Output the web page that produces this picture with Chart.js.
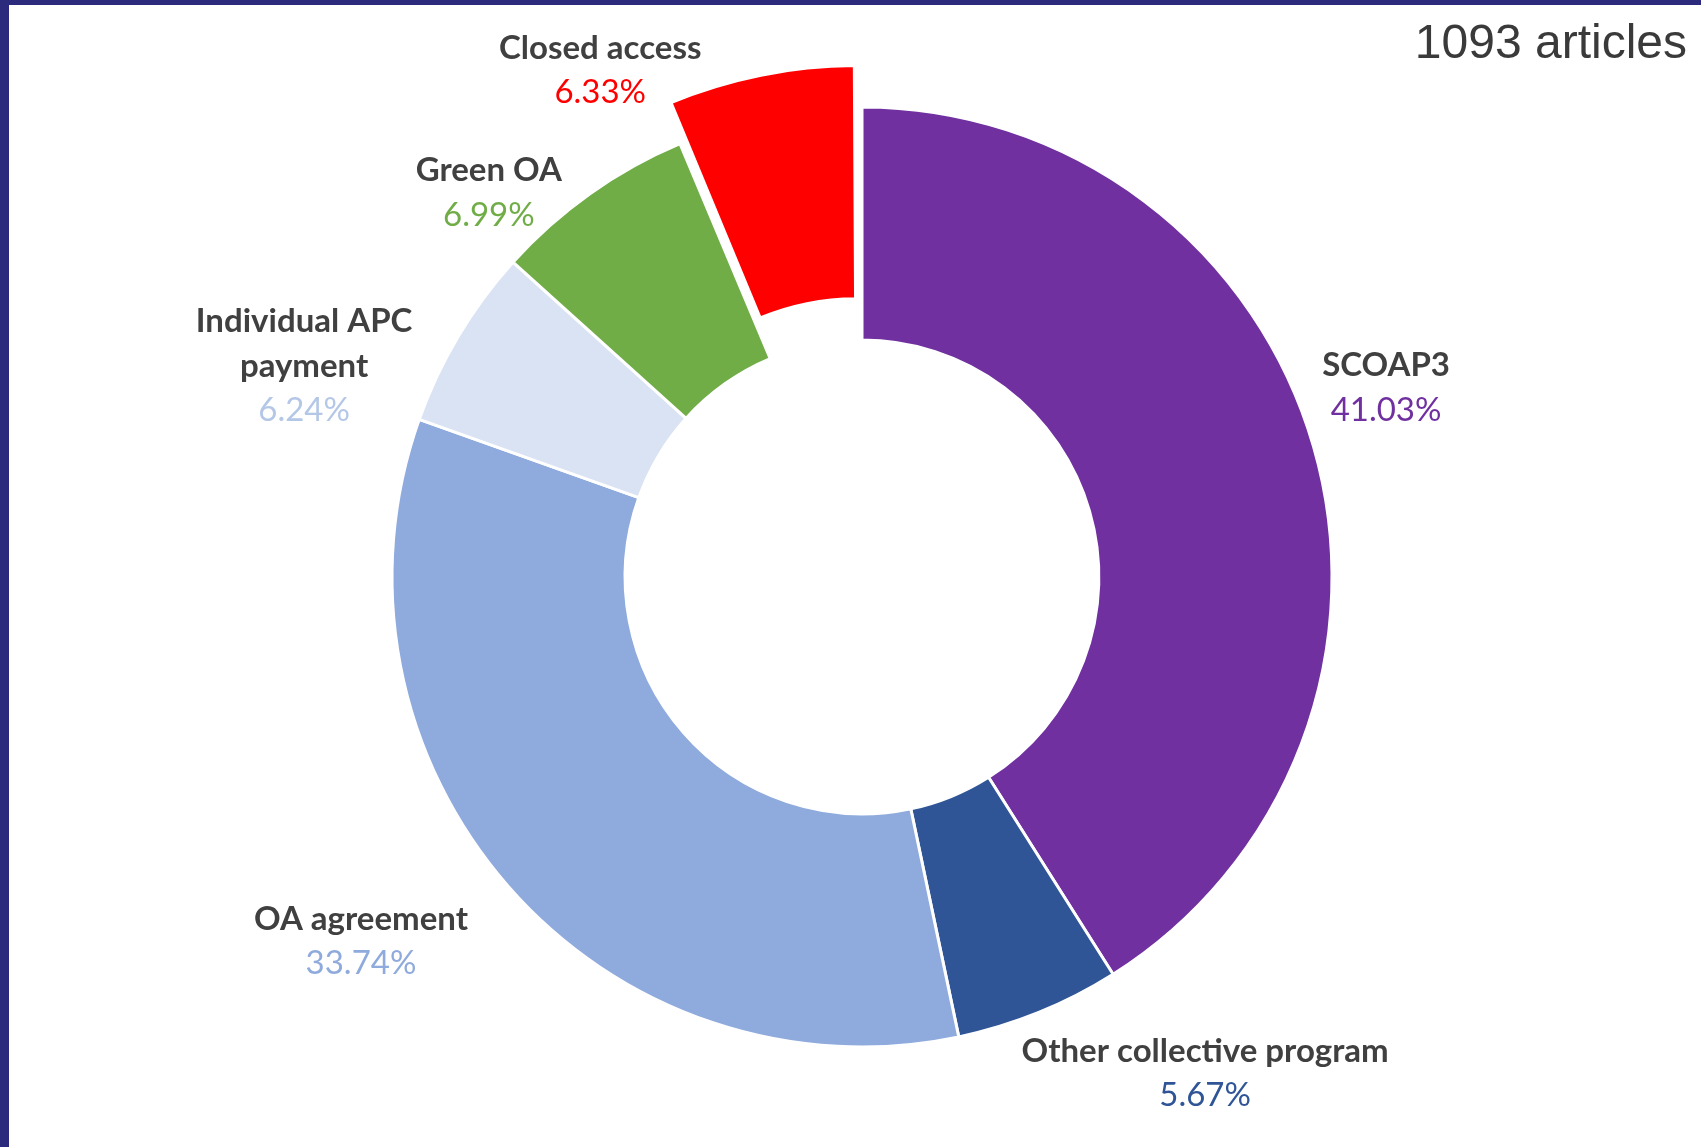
<!DOCTYPE html>
<html>
<head>
<meta charset="utf-8">
<script src="https://cdn.jsdelivr.net/npm/chart.js@4.4.0/dist/chart.umd.min.js"></script>
<style>
    html, body { margin: 0; padding: 0; background: #ffffff; overflow: hidden; }
    #wrap { position: relative; width: 1701px; height: 1147px; }
    #frame {
        position: absolute; left: 0; top: 0; width: 1701px; height: 1147px;
        box-sizing: border-box; pointer-events: none;
        border-left: 9px solid #2b2a7c; border-top: 5px solid #2b2a7c;
    }
    #count {
        position: absolute; right: 14px; top: 14px;
        font-family: "Liberation Sans", Arial, sans-serif; font-size: 48px;
        color: #3a3a3a; white-space: nowrap;
    }
</style>
</head>
<body>
<div id="wrap">
    <canvas id="donut" width="1701" height="1147"></canvas>
    <div id="frame"></div>
    <div id="count">1093 articles</div>
</div>
<script>
// Dữ liệu biểu đồ (phần trăm bài báo theo hình thức xuất bản)
const categories = ["SCOAP3", "Other collective program", "OA agreement", "Individual APC payment", "Green OA", "Closed access"];
const shares = [41.03, 5.67, 33.74, 6.24, 6.99, 6.33];
const sliceColors = ["#7030A0", "#2F5597", "#8FAADC", "#DAE3F3", "#70AD47", "#FF0000"];
const percentColors = ["#7030A0", "#2F5597", "#8FAADC", "#B4C7E7", "#70AD47", "#FF0000"];

// Bố cục nhãn: các dòng tên và vị trí tương đối so với tâm (theo bán kính ngoài)
const labelLines = [["SCOAP3"], ["Other collective program"], ["OA agreement"], ["Individual APC", "payment"], ["Green OA"], ["Closed access"]];
const labelOffsets = [[1.115, -0.402], [0.730, 1.056], [-1.066, 0.775], [-1.187, -0.449], [-0.794, -0.817], [-0.557, -1.078]];

const sliceLabelsPlugin = {
    id: 'sliceLabels',
    afterDatasetsDraw(chart) {
        const ctx = chart.ctx;
        const arcs = chart.getDatasetMeta(0).data;
        if (!arcs.length) return;
        const cx = arcs[0].x, cy = arcs[0].y, R = arcs[0].outerRadius;
        const lineH = 44.5;
        ctx.save();
        ctx.textAlign = 'center';
        ctx.textBaseline = 'middle';
        arcs.forEach((arc, i) => {
            const lines = labelLines[i];
            const total = lines.length + 1;
            const bx = cx + labelOffsets[i][0] * R;
            const by = cy + labelOffsets[i][1] * R;
            let y = by - (total - 1) * lineH / 2;
            ctx.font = 'bold 33px Lato, "Noto Sans", sans-serif';
            ctx.fillStyle = '#404040';
            lines.forEach(t => { ctx.fillText(t, bx, y); y += lineH; });
            ctx.font = '33px Lato, "Noto Sans", sans-serif';
            ctx.fillStyle = percentColors[i];
            ctx.fillText(shares[i].toFixed(2) + '%', bx, y);
        });
        ctx.restore();
    }
};

new Chart(document.getElementById('donut').getContext('2d'), {
    type: 'doughnut',
    data: {
        labels: categories,
        datasets: [{
            data: shares,
            backgroundColor: sliceColors,
            borderColor: '#ffffff',
            borderWidth: 3,
            // tách lát "Closed access" ra ngoài
            offset: [0, 0, 0, 0, 0, 104],
            hoverOffset: 0
        }]
    },
    options: {
        responsive: false,
        animation: false,
        radius: 470,
        cutout: '50.4%',
        layout: { padding: { left: 23, top: 7, right: 0, bottom: 0 } },
        plugins: {
            legend: { display: false },
            tooltip: { enabled: false }
        }
    },
    plugins: [sliceLabelsPlugin]
});
</script>
</body>
</html>
